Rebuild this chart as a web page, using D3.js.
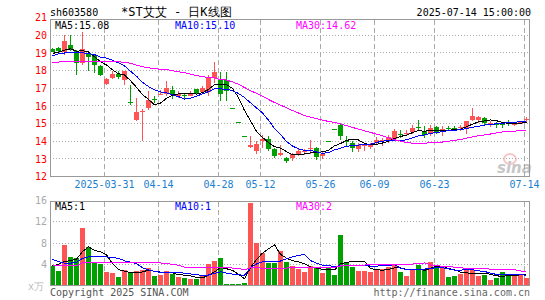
<!DOCTYPE html>
<meta charset="utf-8">
<html>
<head>
<title>sh603580 daily K</title>
<script src="https://cdn.jsdelivr.net/npm/d3@7"></script>
<style>
body { margin: 0; background-color: #fff; }
text { font-family: "DejaVu Sans Mono", monospace; font-size: 10px; }
</style>
</head>
<body>
<div id="chart"></div>
<script type="text/javascript">
// trading days shown on the chart
var dates = [
  "2025-03-18","2025-03-19","2025-03-20","2025-03-21","2025-03-24","2025-03-25","2025-03-26","2025-03-27","2025-03-28","2025-03-31",
  "2025-04-01","2025-04-02","2025-04-03","2025-04-07","2025-04-08","2025-04-09","2025-04-10","2025-04-11","2025-04-14","2025-04-15",
  "2025-04-16","2025-04-17","2025-04-18","2025-04-21","2025-04-22","2025-04-23","2025-04-24","2025-04-25","2025-04-28","2025-04-29",
  "2025-04-30","2025-05-06","2025-05-07","2025-05-08","2025-05-09","2025-05-12","2025-05-13","2025-05-14","2025-05-15","2025-05-16",
  "2025-05-19","2025-05-20","2025-05-21","2025-05-22","2025-05-23","2025-05-26","2025-05-27","2025-05-28","2025-05-29","2025-05-30",
  "2025-06-03","2025-06-04","2025-06-05","2025-06-06","2025-06-09","2025-06-10","2025-06-11","2025-06-12","2025-06-13","2025-06-16",
  "2025-06-17","2025-06-18","2025-06-19","2025-06-20","2025-06-23","2025-06-24","2025-06-25","2025-06-26","2025-06-27","2025-06-30",
  "2025-07-01","2025-07-02","2025-07-03","2025-07-04","2025-07-07","2025-07-08","2025-07-09","2025-07-10","2025-07-11","2025-07-14"
];
var open = [19.24,19.28,19.05,19.43,19.09,18.43,18.96,18.80,18.28,17.26,
  17.58,17.80,17.49,16.20,15.22,15.68,15.88,16.40,16.63,16.67,
  16.92,16.55,16.62,16.58,16.96,16.78,16.77,17.58,17.48,17.48,
  15.87,15.08,14.29,13.67,13.43,14.00,14.13,13.53,13.19,13.06,
  13.03,13.28,13.42,13.60,13.62,13.15,14.00,14.70,14.92,14.02,
  13.90,13.53,13.75,13.67,13.90,14.00,14.00,14.13,14.43,14.45,
  14.53,14.83,14.56,14.45,14.79,14.64,14.77,14.76,14.72,14.75,
  15.20,15.17,15.32,15.02,14.96,15.00,15.09,14.98,14.98,15.25];
var high = [19.28,19.32,19.99,20.03,19.15,20.20,19.00,18.90,18.30,17.58,
  17.95,17.95,18.00,17.20,16.45,15.80,16.82,16.55,16.92,17.43,
  17.11,16.83,16.68,16.85,16.98,17.13,17.77,18.48,17.92,17.92,
  15.87,15.08,14.29,14.28,13.99,14.34,14.28,13.62,13.77,13.11,
  13.34,13.53,13.53,14.05,13.66,13.43,14.00,14.70,15.00,14.28,
  14.00,13.90,13.85,13.90,14.23,14.20,14.34,14.71,14.65,14.65,
  14.94,15.19,14.85,14.94,14.88,14.85,14.88,14.85,14.94,15.15,
  15.88,15.41,15.35,15.15,15.08,15.08,15.17,15.10,15.15,15.35];
var low = [19.03,19.05,18.87,19.10,17.77,18.33,17.96,17.86,17.67,17.20,
  17.54,17.50,17.20,16.07,15.13,14.00,15.79,16.16,16.60,16.54,
  16.41,16.45,16.32,16.54,16.68,16.73,16.54,17.30,16.30,16.30,
  15.85,15.06,14.27,13.62,13.28,13.62,13.43,13.02,13.15,12.78,
  12.88,13.15,13.19,13.25,12.96,13.00,13.98,14.68,14.09,13.72,
  13.40,13.40,13.47,13.53,13.80,13.72,13.90,14.06,14.19,14.28,
  14.38,14.56,14.19,14.28,14.38,14.28,14.56,14.60,14.56,14.38,
  15.13,15.04,14.94,14.79,14.75,14.72,14.85,14.85,14.95,15.10];
var close = [19.07,19.10,19.65,19.22,18.43,19.20,18.75,18.30,17.77,17.54,
  17.82,17.65,17.96,16.15,15.66,15.72,16.35,16.38,16.68,17.00,
  16.64,16.67,16.58,16.72,16.73,17.01,17.61,17.92,16.69,16.82,
  15.85,15.06,14.27,13.77,13.85,14.15,13.53,13.15,13.34,12.87,
  13.26,13.47,13.45,13.63,13.09,13.30,13.98,14.68,14.28,13.98,
  13.62,13.77,13.78,13.80,14.09,14.04,14.24,14.56,14.40,14.48,
  14.75,14.80,14.34,14.75,14.47,14.68,14.73,14.74,14.79,15.13,
  15.43,15.35,15.04,15.05,14.92,14.96,15.06,15.00,15.10,15.27];
// volume, in 10k shares
var volume = [3.70,2.76,7.70,5.38,5.25,10.78,7.30,4.30,4.04,2.57,
  2.38,1.60,2.95,2.57,2.76,2.88,3.33,1.73,1.92,2.76,
  2.12,1.60,1.41,1.15,1.28,1.73,4.04,4.62,5.19,0.20,
  0.25,0.30,0.45,15.60,8.00,6.10,4.30,4.30,6.55,4.50,
  3.66,3.20,2.57,3.66,3.33,2.38,3.40,1.92,9.50,4.50,
  3.53,2.76,2.70,2.57,3.20,3.20,3.53,4.04,2.57,1.73,
  3.20,3.85,2.88,4.50,3.66,3.40,1.60,1.73,2.25,2.88,
  2.88,1.73,1.92,1.10,1.41,2.57,2.25,1.92,1.92,1.48];

// moving average values before a full window exists
var ma5Head = [18.97,19.03,19.15,19.23];
var ma10Head = [18.84,18.94,18.99,19.00,19.00,19.00,18.96,18.90,18.75];
var ma30Head = [18.43,18.48,18.52,18.52,18.52,18.52,18.52,18.51,18.51,18.50,
  18.50,18.49,18.47,18.41,18.30,18.22,18.15,18.11,18.07,18.05,
  17.99,17.93,17.88,17.80,17.71,17.65,17.61,17.58,17.48];
var vma5Head = [3.7,4.0,4.5,4.7];
var vma10Head = [4.9,4.5,4.2,4.2,4.4,5.1,5.4,5.5,5.5];
var vma30Head = [3.75,3.75,3.75,3.75,3.75,4.3,4.35,4.35,4.35,4.35,
  4.35,4.35,4.35,4.35,4.35,4.35,4.35,4.35,4.25,4.1,
  4.0,3.8,3.45,3.45,3.4,3.4,3.35,3.3,3.3];

var priceTicks = [13,14,15,16,17,18,19,20,21];
var volTicks = [4,8,12,16];
var dateTicks = ["2025-03-31","2025-04-14","2025-04-28","2025-05-12","2025-05-26","2025-06-09","2025-06-23","2025-07-14"];
var dateTickLabels = ["2025-03-31","04-14","04-28","05-12","05-26","06-09","06-23","07-14"];

var RED = "#ff5454", GREEN = "#00a000";

function movingAvg(vals, n, head) {
  return vals.map(function (v, i) {
    return i < n - 1 ? head[i] : d3.mean(vals.slice(i - n + 1, i + 1));
  });
}

var svg = d3.select("#chart").append("svg")
  .attr("width", 545).attr("height", 300)
  .style("display", "block");
svg.append("rect").attr("width", 545).attr("height", 300).attr("fill", "#fff");

var x = d3.scaleBand().domain(dates).range([50, 530]);
var yP = d3.scaleLinear().domain([12, 21]).range([176.5, 17.5]);
var yV = d3.scaleLinear().domain([0, 16]).range([285.5, 200.5]);
function cx(d) { return x(d) + 2.5; }

// ---- header
svg.append("text").attr("x", 50).attr("y", 15.5).attr("fill", "#000").text("sh603580");
svg.append("text").attr("x", 121).attr("y", 16).attr("fill", "#000")
  .style("font-size", "12px").attr("xml:space", "preserve").text("*ST艾艾 - 日K线图");
svg.append("text").attr("x", 531).attr("y", 15.5).attr("fill", "#000")
  .attr("text-anchor", "end").text("2025-07-14 15:00:00");

// ---- grids
var g = svg.append("g").attr("shape-rendering", "crispEdges");
g.selectAll(".hp").data([13,14,15,16,17,18,19,20]).enter().append("line")
  .attr("x1", 50).attr("x2", 530).attr("y1", yP).attr("y2", yP)
  .attr("stroke", "#aaa").attr("stroke-dasharray", "1,2");
g.selectAll(".hv").data([4,8,12]).enter().append("line")
  .attr("x1", 50).attr("x2", 530).attr("y1", yV).attr("y2", yV)
  .attr("stroke", "#aaa").attr("stroke-dasharray", "1,2");
dateTicks.forEach(function (d) {
  var xx = x(d) + 0.5;
  g.append("line").attr("x1", xx).attr("x2", xx).attr("y1", 20).attr("y2", 176)
    .attr("stroke", "#aaa").attr("stroke-dasharray", "5,3");
  g.append("line").attr("x1", xx).attr("x2", xx).attr("y1", 202).attr("y2", 285)
    .attr("stroke", "#aaa").attr("stroke-dasharray", "5,3");
});

// sina watermark
var wm = svg.append("g").attr("opacity", 0.55);
wm.append("ellipse").attr("cx", 510).attr("cy", 159).attr("rx", 6).attr("ry", 5)
  .attr("fill", "none").attr("stroke", "#f09a9a").attr("stroke-width", 2);
wm.append("text").attr("x", 497).attr("y", 173).attr("fill", "#999")
  .style("font-family", "DejaVu Sans").style("font-size", "15px")
  .style("font-weight", "bold").style("font-style", "italic").text("sina");

// ---- candles
var candles = dates.map(function (d, i) {
  return { d: d, o: open[i], h: high[i], l: low[i], c: close[i], v: volume[i], up: close[i] >= open[i] };
});
var cg = svg.append("g").attr("shape-rendering", "crispEdges");
cg.selectAll(".wick").data(candles).enter().append("rect")
  .attr("x", function (d) { return x(d.d) + 2; })
  .attr("width", 1)
  .attr("y", function (d) { return yP(d.h); })
  .attr("height", function (d) { return Math.max(1, yP(d.l) - yP(d.h)); })
  .attr("fill", function (d) { return d.up ? RED : GREEN; });
cg.selectAll(".body").data(candles).enter().append("rect")
  .attr("x", function (d) { return x(d.d); })
  .attr("width", 5)
  .attr("y", function (d) { return yP(Math.max(d.o, d.c)); })
  .attr("height", function (d) { return Math.max(1, Math.abs(yP(d.o) - yP(d.c))); })
  .attr("fill", function (d) { return d.up ? RED : GREEN; });

// ---- volume bars
cg.selectAll(".vol").data(candles).enter().append("rect")
  .attr("x", function (d) { return x(d.d); })
  .attr("width", 5)
  .attr("y", function (d) { return yV(d.v); })
  .attr("height", function (d) { return Math.max(1, yV(0) - yV(d.v)); })
  .attr("fill", function (d) { return d.up ? RED : GREEN; });

// ---- moving averages
var lines = [
  { vals: movingAvg(close, 5, ma5Head), y: yP, color: "#000" },
  { vals: movingAvg(close, 10, ma10Head), y: yP, color: "#0000ff" },
  { vals: movingAvg(close, 30, ma30Head), y: yP, color: "#ff00ff" },
  { vals: movingAvg(volume, 5, vma5Head), y: yV, color: "#000" },
  { vals: movingAvg(volume, 10, vma10Head), y: yV, color: "#0000ff" },
  { vals: movingAvg(volume, 30, vma30Head), y: yV, color: "#ff00ff" }
];
lines.forEach(function (ln) {
  var path = d3.line()
    .x(function (v, i) { return cx(dates[i]); })
    .y(function (v) { return ln.y(v); });
  svg.append("path").attr("d", path(ln.vals))
    .attr("fill", "none").attr("stroke", ln.color).attr("stroke-width", 1)
    .attr("shape-rendering", "crispEdges");
});

// ---- frames
var fr = svg.append("g").attr("shape-rendering", "crispEdges").attr("fill", "none").attr("stroke", "#999");
fr.append("rect").attr("x", 50.5).attr("y", 19.5).attr("width", 479).attr("height", 157);
fr.append("rect").attr("x", 50.5).attr("y", 201.5).attr("width", 479).attr("height", 84);

// ---- axes labels
var axP = svg.append("g").attr("transform", "translate(48,0)")
  .call(d3.axisLeft(yP).tickValues([12].concat(priceTicks)).tickSize(0).tickPadding(1).tickFormat(d3.format("d")));
axP.select(".domain").remove();
axP.selectAll("text").attr("fill", "#ff0000").style("font-family", "DejaVu Sans Mono").style("font-size", "10px");

var axV = svg.append("g").attr("transform", "translate(48,0)")
  .call(d3.axisLeft(yV).tickValues(volTicks).tickSize(0).tickPadding(1).tickFormat(d3.format("d")));
axV.select(".domain").remove();
axV.selectAll("text").attr("fill", "#aaa").style("font-family", "DejaVu Sans Mono").style("font-size", "10px");
svg.append("text").attr("x", 28).attr("y", 290).attr("fill", "#bbb").text("x万");

var axX = svg.append("g").attr("transform", "translate(0,178)")
  .call(d3.axisBottom(x).tickValues(dateTicks).tickSize(0).tickPadding(3)
    .tickFormat(function (d) { return dateTickLabels[dateTicks.indexOf(d)]; }));
axX.select(".domain").remove();
axX.selectAll(".tick").attr("transform", function (d) { return "translate(" + (x(d) + 0.5) + ",0)"; });
axX.selectAll("text").attr("fill", "#1b80d0").style("font-family", "DejaVu Sans Mono").style("font-size", "10px");

// ---- legends
svg.append("text").attr("x", 55).attr("y", 28.5).attr("fill", "#000").text("MA5:15.08");
svg.append("text").attr("x", 175).attr("y", 28.5).attr("fill", "#0000ff").text("MA10:15.10");
svg.append("text").attr("x", 296).attr("y", 28.5).attr("fill", "#ff00ff").text("MA30:14.62");
svg.append("text").attr("x", 55).attr("y", 210).attr("fill", "#000").text("MA5:1");
svg.append("text").attr("x", 175).attr("y", 210).attr("fill", "#0000ff").text("MA10:1");
svg.append("text").attr("x", 296).attr("y", 210).attr("fill", "#ff00ff").text("MA30:2");

// ---- footer
svg.append("text").attr("x", 50).attr("y", 295.5).attr("fill", "#555").text("Copyright 2025 SINA.COM");
svg.append("text").attr("x", 530).attr("y", 295.5).attr("fill", "#666").attr("text-anchor", "end").text("http://finance.sina.com.cn");
</script>
</body>
</html>
